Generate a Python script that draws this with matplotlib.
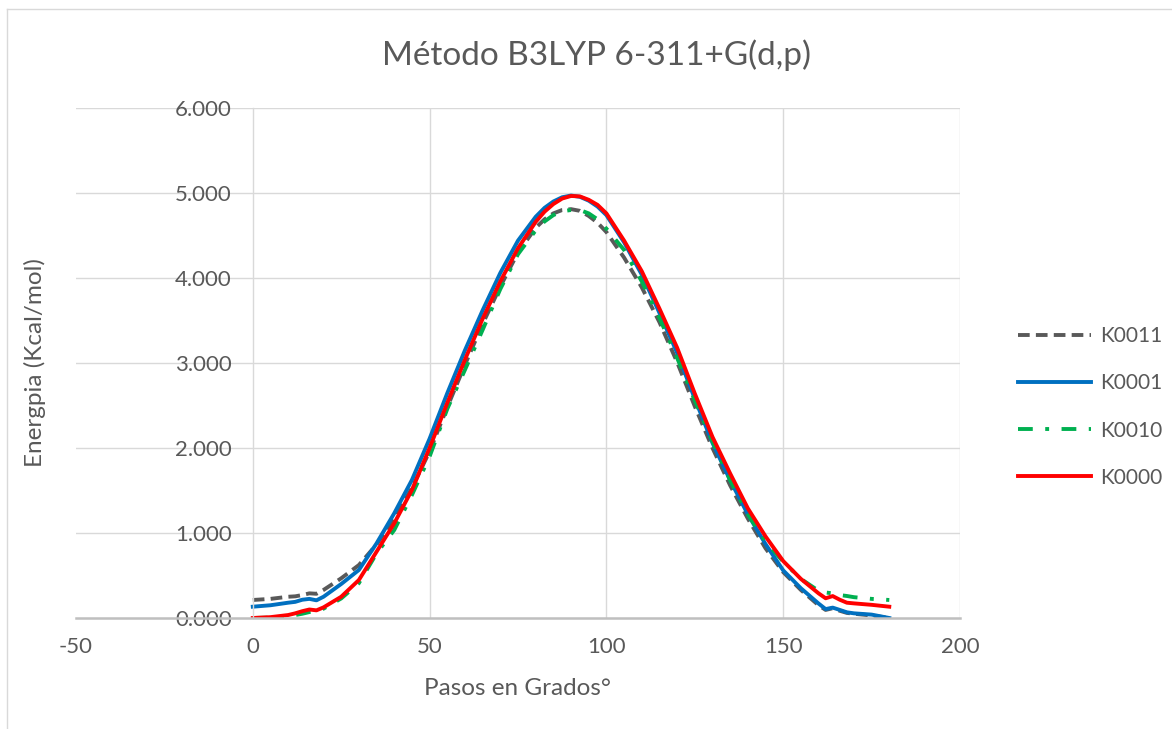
import matplotlib
matplotlib.use("Agg")
import matplotlib.pyplot as plt
from matplotlib.ticker import FuncFormatter
from matplotlib.lines import Line2D

plt.rcParams['font.family'] = ['Lato', 'DejaVu Sans']
plt.rcParams['axes.unicode_minus'] = False

# angulos (grados)
angles = [0, 5, 10, 12, 14, 16, 18, 20, 25, 30, 35, 40, 45, 50, 55, 60, 65, 70,
          75, 80, 82.5, 85, 87.5, 90, 92.5, 95, 97.5, 100, 105, 110, 115, 120,
          125, 130, 135, 140, 145, 150, 155, 160, 162, 164, 166, 168, 170, 175, 180]

# energias (kcal/mol)
k0011 = [0.212, 0.225, 0.250, 0.255, 0.270, 0.290, 0.285, 0.330, 0.467, 0.623,
         0.865, 1.170, 1.530, 1.960, 2.480, 2.980, 3.460, 3.900, 4.300, 4.590,
         4.690, 4.760, 4.800, 4.810, 4.790, 4.730, 4.650, 4.540, 4.240, 3.890,
         3.480, 3.010, 2.490, 2.000, 1.560, 1.170, 0.820, 0.540, 0.330, 0.150,
         0.095, 0.115, 0.085, 0.060, 0.050, 0.030, 0.000]
k0001 = [0.133, 0.150, 0.180, 0.190, 0.215, 0.225, 0.208, 0.250, 0.400, 0.565,
         0.878, 1.232, 1.624, 2.110, 2.645, 3.150, 3.620, 4.060, 4.440, 4.720,
         4.825, 4.900, 4.950, 4.970, 4.955, 4.910, 4.840, 4.740, 4.420, 4.040,
         3.590, 3.120, 2.580, 2.060, 1.620, 1.220, 0.870, 0.560, 0.350, 0.170,
         0.105, 0.122, 0.095, 0.067, 0.055, 0.040, 0.000]
k0010 = [0.000, 0.005, 0.020, 0.035, 0.050, 0.070, 0.075, 0.110, 0.230, 0.410,
         0.760, 1.035, 1.447, 1.900, 2.460, 2.920, 3.390, 3.870, 4.280, 4.560,
         4.665, 4.740, 4.785, 4.800, 4.800, 4.760, 4.690, 4.580, 4.330, 3.960,
         3.530, 3.060, 2.560, 2.080, 1.620, 1.220, 0.900, 0.663, 0.460, 0.320,
         0.300, 0.290, 0.270, 0.259, 0.245, 0.225, 0.212]
k0000 = [0.000, 0.010, 0.035, 0.055, 0.080, 0.100, 0.090, 0.125, 0.250, 0.447,
         0.780, 1.114, 1.506, 2.000, 2.530, 3.040, 3.520, 3.960, 4.350, 4.660,
         4.780, 4.870, 4.935, 4.965, 4.960, 4.920, 4.860, 4.760, 4.440, 4.080,
         3.640, 3.180, 2.640, 2.130, 1.700, 1.290, 0.960, 0.670, 0.460, 0.290,
         0.232, 0.258, 0.215, 0.180, 0.172, 0.155, 0.133]

x_ticks = [-50, 0, 50, 100, 150, 200]
y_ticks = [0, 1, 2, 3, 4, 5, 6]

fig = plt.figure(figsize=(11.72, 7.29), dpi=100)
ax = fig.add_axes([76 / 1172, 1 - 618 / 729, (960 - 76) / 1172, (618 - 108) / 729])

lw = 2.8
ax.plot(angles, k0011, color='#595959', lw=lw, dashes=(3, 1.6), label='K0011')
ax.plot(angles, k0001, color='#0070C0', lw=lw, label='K0001')
ax.plot(angles, k0010, color='#00B050', lw=lw, dashes=(3.8, 3.2, 1.0, 3.2), label='K0010')
ax.plot(angles, k0000, color='#FF0000', lw=lw, label='K0000')

ax.set_xlim(-50, 200)
ax.set_ylim(0, 6)
ax.set_xticks(x_ticks)
ax.set_yticks(y_ticks)
ax.yaxis.set_major_formatter(FuncFormatter(lambda v, p: f"{v:.3f}"))

# rejilla
for yv in y_ticks[1:]:
    ax.axhline(yv, color='#D9D9D9', lw=1.0, zorder=0)
for xv in x_ticks[2:]:
    ax.axvline(xv, color='#D9D9D9', lw=1.0, zorder=0)

for s in ['top', 'right']:
    ax.spines[s].set_visible(False)
ax.spines['left'].set_position(('data', 0))
ax.spines['left'].set_color('#D9D9D9')
ax.spines['left'].set_linewidth(1.0)
ax.spines['bottom'].set_color('#BFBFBF')
ax.spines['bottom'].set_linewidth(1.8)

ax.tick_params(axis='both', length=0, labelsize=16, colors='#595959')
ax.tick_params(axis='y', pad=15)
ax.tick_params(axis='x', pad=14)

ax.set_xlabel('Pasos en Grados°', fontsize=17.5, color='#595959', labelpad=15)
fig.text(35 / 1172, 1 - 363 / 729, 'Energpia (Kcal/mol)', rotation=90,
         fontsize=17.5, color='#595959', ha='center', va='center')
fig.text(597 / 1172, 1 - 55 / 729, 'Método B3LYP 6-311+G(d,p)',
         fontsize=24, color='#595959', ha='center', va='center')

leg = fig.legend(loc='center left', bbox_to_anchor=(1018 / 1172, 1 - 407 / 729),
                 bbox_transform=fig.transFigure, frameon=False, fontsize=15,
                 handlelength=3.5, handletextpad=0.45, labelspacing=1.3,
                 borderpad=0, borderaxespad=0)
for t in leg.get_texts():
    t.set_color('#595959')

# marco del grafico
fig.add_artist(Line2D([7 / 1172, 7 / 1172], [0, 1 - 9 / 729], color='#D9D9D9',
                      lw=1.0, transform=fig.transFigure))
fig.add_artist(Line2D([7 / 1172, 1], [1 - 9 / 729, 1 - 9 / 729], color='#D9D9D9',
                      lw=1.0, transform=fig.transFigure))

fig.savefig('out.png', dpi=100)
